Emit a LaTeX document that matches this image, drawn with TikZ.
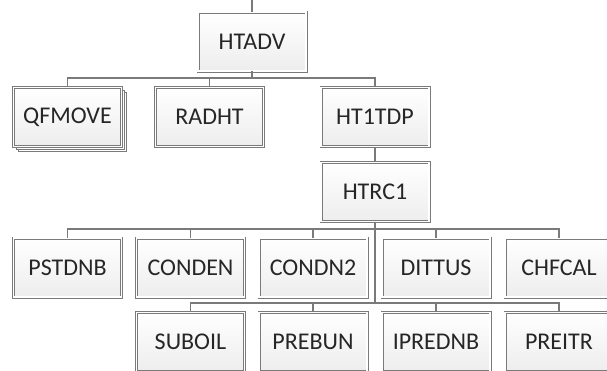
\documentclass[tikz,border=0pt]{standalone}
\usepackage{fontspec}
\setmainfont{Carlito}
\usetikzlibrary{shadows}
\definecolor{boxline}{HTML}{7A7A7A}
\definecolor{txtgray}{HTML}{262626}
\tikzstyle{mbox}=[rectangle,draw=boxline,double=white,double distance=1.2pt,line width=0.9pt,minimum width=108pt,minimum height=59pt,inner sep=0pt,top color=white,bottom color=gray!14,text=txtgray,font=\fontsize{24}{28}\selectfont,drop shadow={shadow xshift=1.5pt,shadow yshift=-1.5pt,fill=gray!30,opacity=0.6}]
\tikzstyle{link}=[draw=boxline,line width=1.6pt]

\begin{document}
\begin{tikzpicture}[x=1pt,y=-1pt]
\useasboundingbox (0,0) rectangle (607,370);
\clip (0,0) rectangle (607,370);
\coordinate (top) at (252,0);
\node[mbox] (HTADV) at (252,41.5) {HTADV};
\node[mbox,double copy shadow={shadow xshift=2.5pt,shadow yshift=-2.5pt,fill=white,draw=boxline,line width=0.8pt}] (QFMOVE) at (67.5,117) {QFMOVE};
\node[mbox] (RADHT) at (209.5,117) {RADHT};
\node[mbox] (HT1TDP) at (375,117) {HT1TDP};
\node[mbox] (HTRC1) at (375,192) {HTRC1};
\node[mbox] (PSTDNB) at (67.5,267.5) {PSTDNB};
\node[mbox] (CONDEN) at (190.5,267.5) {CONDEN};
\node[mbox] (CONDN2) at (313,267.5) {CONDN2};
\node[mbox] (DITTUS) at (436,267.5) {DITTUS};
\node[mbox] (CHFCAL) at (559,267.5) {CHFCAL};
\node[mbox] (SUBOIL) at (190.5,342) {SUBOIL};
\node[mbox] (PREBUN) at (313,342) {PREBUN};
\node[mbox] (IPREDNB) at (436,342) {IPREDNB};
\node[mbox] (PREITR) at (559,342) {PREITR};
% level 1
\draw[link] (top) -- (HTADV.north);
\foreach \n in {QFMOVE,RADHT,HT1TDP}
  \draw[link] (HTADV.south) -- ++(0,6.5) -| (\n.north);
\draw[link] (HT1TDP) -- (HTRC1);
% level 2
\foreach \n in {PSTDNB,CONDEN,CONDN2,DITTUS,CHFCAL}
  \draw[link] (HTRC1.south) -- ++(0,7) -| (\n.north);
\foreach \n in {SUBOIL,PREBUN,IPREDNB,PREITR}
  \draw[link] (HTRC1.south) -- ++(0,81) -| (\n.north);
\end{tikzpicture}
\end{document}
